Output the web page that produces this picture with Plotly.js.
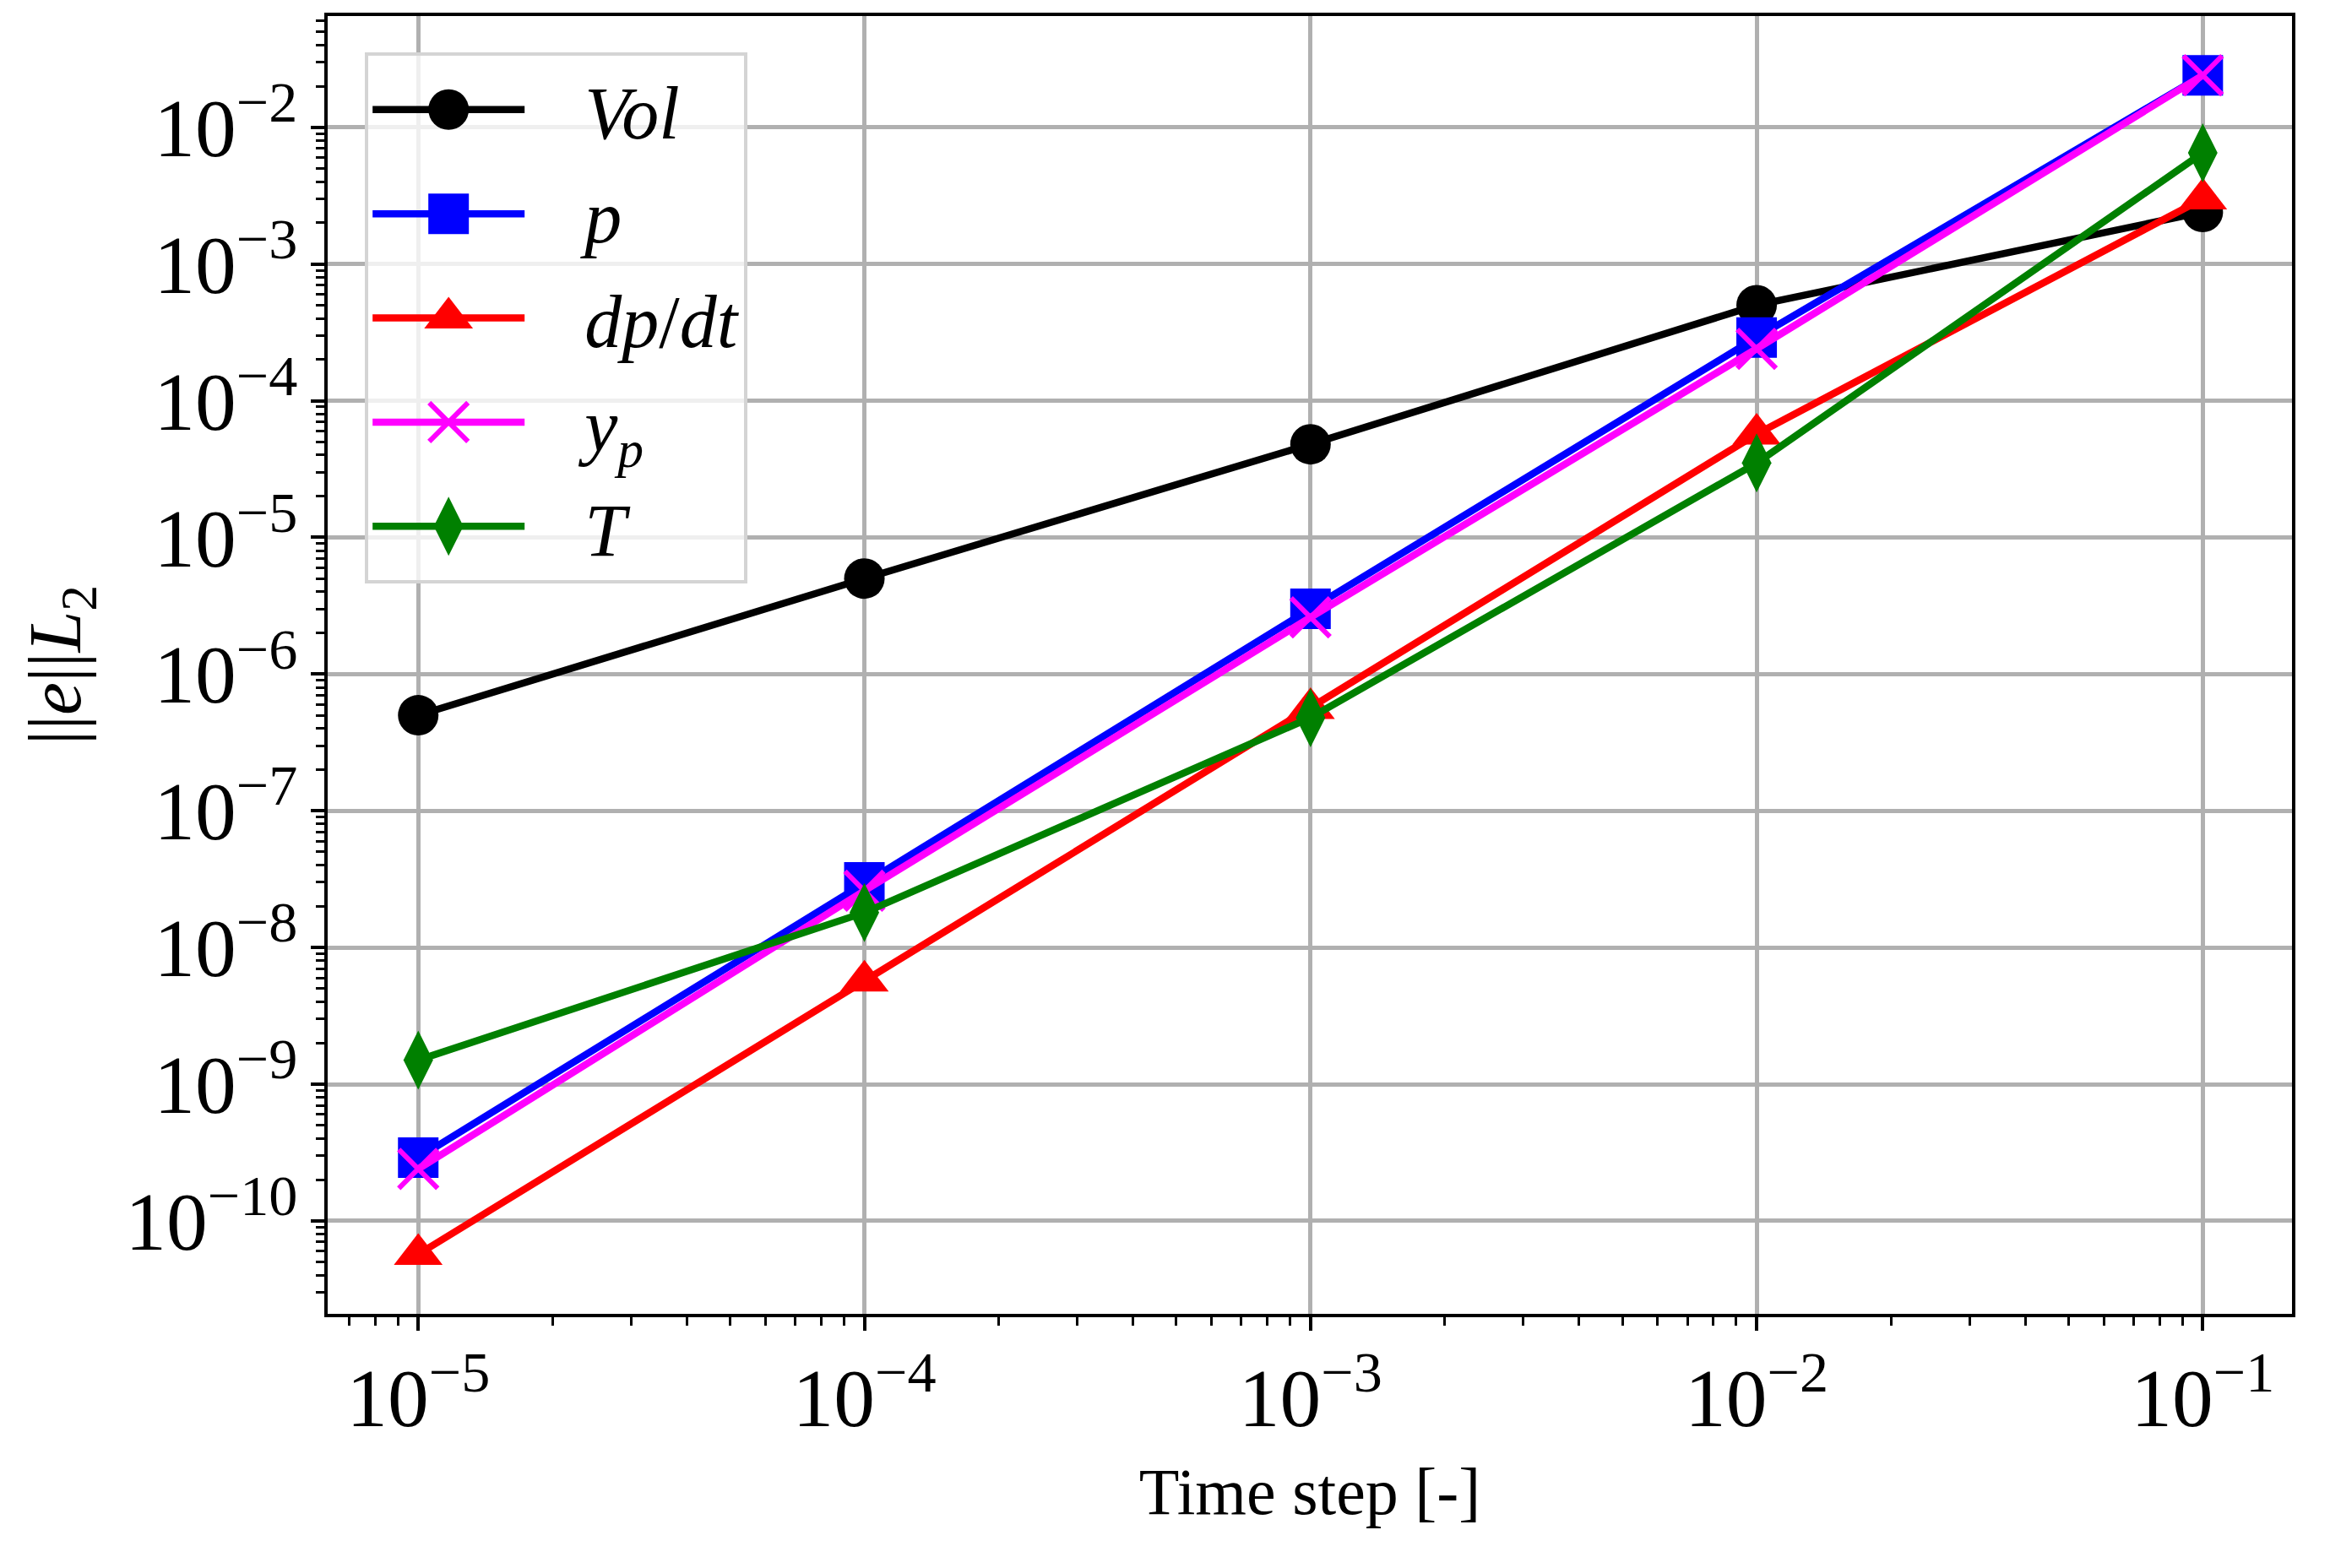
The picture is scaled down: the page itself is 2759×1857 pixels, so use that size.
<!DOCTYPE html>
<html>
<head>
<meta charset="utf-8">
<script src="https://cdn.plot.ly/plotly-3.0.1.min.js"></script>
<style>
  html, body { margin: 0; padding: 0; background: #fff; }
  #plot { width: 2759px; height: 1857px; }
</style>
</head>
<body>
<div id="plot"></div>
<script>
// time steps and L2 errors
var timeSteps = [1e-5, 1e-4, 1e-3, 1e-2, 1e-1];
var errVol  = [5.0e-7, 5.0e-6, 4.8e-5, 5.0e-4, 2.4e-3];
var errP    = [2.9e-10, 3.0e-8, 3.0e-6, 2.9e-4, 2.4e-2];
var errDpdt = [5.7e-11, 5.7e-9, 5.6e-7, 5.7e-5, 3.0e-3];
var errYp   = [2.4e-10, 2.6e-8, 2.6e-6, 2.4e-4, 2.4e-2];
var errT    = [1.5e-9, 1.8e-8, 4.8e-7, 3.5e-5, 6.5e-3];

var seriesNames = ['<i>Vol</i>', '<i>p</i>', '<i>dp</i>/<i>dt</i>', '<i>y</i><sub><i>p</i></sub>', '<i>T</i>'];
var seriesColors = ['black', 'blue', 'red', 'magenta', 'green'];
var seriesSymbols = ['circle', 'square', 'triangle-up', 'x-thin-open', 'diamond-tall'];
var seriesSizes = [48, 48, 50, 46, 50];
var seriesData = [errVol, errP, errDpdt, errYp, errT];

document.addEventListener("DOMContentLoaded", function () {
    var FONT = '"Liberation Serif", "Times New Roman", serif';
    var GAP = '\u00a0\u00a0\u00a0';
    var LW = 8.5;

    var traces = seriesData.map(function (vals, i) {
        var sym = seriesSymbols[i];
        return {
            name: GAP + seriesNames[i],
            x: timeSteps,
            y: vals,
            type: 'scatter',
            mode: 'lines+markers',
            legendgroup: 'g' + i,
            line: { color: seriesColors[i], width: LW },
            marker: {
                symbol: sym,
                size: seriesSizes[i],
                color: seriesColors[i],
                line: { color: seriesColors[i], width: sym === 'x-thin-open' ? 6 : 0 }
            }
        };
    });

    var axisCommon = {
        type: 'log',
        showline: true,
        mirror: true,
        linecolor: 'black',
        linewidth: 4,
        ticks: 'outside',
        ticklen: 16,
        tickwidth: 4,
        tickcolor: 'black',
        showgrid: true,
        gridcolor: '#b0b0b0',
        gridwidth: 5,
        zeroline: false,
        dtick: 1,
        exponentformat: 'power',
        showexponent: 'all',
        tickfont: { family: FONT, size: 78, color: 'black' },
        minor: {
            dtick: 'D1',
            ticks: 'outside',
            ticklen: 10,
            tickwidth: 3,
            tickcolor: 'black',
            showgrid: false
        }
    };

    var layout = {
        width: 2759,
        height: 1857,
        paper_bgcolor: 'white',
        plot_bgcolor: 'white',
        margin: { l: 388, r: 45, t: 19, b: 301 },
        font: { family: FONT, color: 'black' },
        showlegend: true,
        xaxis: Object.assign({}, axisCommon, {
            range: [-5.203, -0.8],
            title: { text: 'Time step [-]', font: { family: FONT, size: 78 }, standoff: 30 }
        }),
        yaxis: Object.assign({}, axisCommon, {
            range: [-10.68, -1.186],
            title: { text: '||<i>e</i>||<i>L</i><sub>2</sub>', font: { family: FONT, size: 88 }, standoff: 24 }
        }),
        legend: {
            x: 0.019,
            y: 0.972,
            xanchor: 'left',
            yanchor: 'top',
            bgcolor: 'rgba(255,255,255,0.8)',
            bordercolor: '#d4d4d4',
            borderwidth: 4,
            font: { family: FONT, size: 88, color: 'black' },
            itemwidth: 180,
            traceorder: 'grouped',
            tracegroupgap: 6,
            itemsizing: 'trace'
        }
    };

    Plotly.newPlot('plot', traces, layout, { displayModeBar: false, staticPlot: true }).then(function (gd) {
        // plotly caps legend glyphs, so blow them back up to the sizes used in the plot
        var items = gd.querySelectorAll('.legend .traces');
        items.forEach(function (item, i) {
            item.querySelectorAll('.legendlines path').forEach(function (ln) {
                ln.style.setProperty('stroke-width', LW + 'px', 'important');
            });
            var pt = item.querySelector('path.scatterpts');
            if (!pt) return;
            var k = seriesSizes[i] / 16;
            var tr = pt.getAttribute('transform') || '';
            pt.setAttribute('transform', tr + ' scale(' + k + ')');
            if (seriesSymbols[i] === 'x-thin-open') pt.style.setProperty('stroke-width', (6 / k) + 'px', 'important');
        });
    });
});
</script>
</body>
</html>
